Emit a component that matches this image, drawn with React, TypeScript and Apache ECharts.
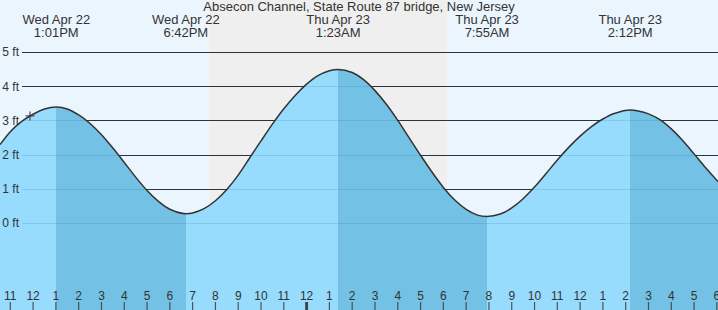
import React, { useEffect, useRef } from "react";
import * as echarts from "echarts";

const TITLE = "Absecon Channel, State Route 87 bridge, New Jersey";

// hours counted from Wed Apr 22 00:00, heights in ft
const TIDE_HOURS = [10.55, 11, 11.5, 12, 12.5, 13.017, 13.5, 14, 14.5, 15, 15.5, 16, 16.5, 17, 17.5, 18, 18.7, 19, 19.5, 20, 20.5, 21, 21.5, 22, 22.5, 23, 23.5, 24, 24.5, 25, 25.383, 26, 26.5, 27, 27.5, 28, 28.5, 29, 29.5, 30, 30.5, 31, 31.5, 31.917, 32.5, 33, 33.5, 34, 34.5, 35, 35.5, 36, 36.5, 37, 37.5, 38.2, 38.5, 39, 39.5, 40, 40.5, 41, 41.5, 42.05];
const TIDE_FT = [2.3, 2.68, 2.98, 3.19, 3.34, 3.4, 3.345, 3.17, 2.92, 2.59, 2.2, 1.78, 1.35, 0.96, 0.64, 0.41, 0.28, 0.3, 0.43, 0.66, 0.99, 1.41, 1.91, 2.41, 2.9, 3.35, 3.74, 4.07, 4.32, 4.46, 4.5, 4.41, 4.2, 3.88, 3.48, 3.01, 2.5, 1.99, 1.5, 1.05, 0.68, 0.41, 0.24, 0.2, 0.27, 0.45, 0.72, 1.06, 1.45, 1.85, 2.22, 2.55, 2.83, 3.05, 3.21, 3.31, 3.29, 3.2, 3.03, 2.76, 2.42, 2.03, 1.63, 1.22];

const EXTREME_HOURS = [13.017, 18.7, 25.383, 31.917, 38.2];
const EXTREME_DAYS = ["Wed Apr 22", "Wed Apr 22", "Thu Apr 23", "Thu Apr 23", "Thu Apr 23"];
const EXTREME_CLOCK = ["1:01PM", "6:42PM", "1:23AM", "7:55AM", "2:12PM"];

const HOUR_TICKS = [11, 12, 13, 14, 15, 16, 17, 18, 19, 20, 21, 22, 23, 24, 25, 26, 27, 28, 29, 30, 31, 32, 33, 34, 35, 36, 37, 38, 39, 40, 41, 42];
const HEIGHT_LEVELS = [0, 1, 2, 3, 4, 5];
const NIGHT = [19.72, 30.16];
const NOW_POINT = [11.864, 3.14];
const MIDNIGHT = [24];

const X_MIN = 10.548;
const X_MAX = 42.05;
const Y_MIN = -2.535;
const Y_MAX = 6.53;
const WIDTH = 718;
const HEIGHT = 310;

const FONT = "'Liberation Sans', Arial, sans-serif";
const TEXT = "#333";
const BG = "#EBF5FE";
const NIGHT_COLOR = "#EFEFEF";
const LIGHT = "#97DBFD";
const DARK = "#73C1E5";

function hourLabel(h: number) {
  const r = Math.round(h) % 12;
  return String(r === 0 ? 12 : r);
}

export default function App() {
  const ref = useRef<HTMLDivElement>(null);
  useEffect(() => {
    const chart = echarts.init(ref.current!, undefined, { renderer: "svg" });
    const lineStart = X_MIN + 22 * ((X_MAX - X_MIN) / WIDTH);

    const pieces: any[] = [];
    const bounds = [X_MIN - 1, ...EXTREME_HOURS, X_MAX + 1];
    for (let i = 0; i < bounds.length - 1; i++) {
      pieces.push({ gte: bounds[i], lt: bounds[i + 1], color: i % 2 === 0 ? LIGHT : DARK });
    }

    const option: any = {
      animation: false,
      backgroundColor: BG,
      textStyle: { fontFamily: FONT },
      title: {
        text: TITLE,
        left: "center",
        top: 0,
        padding: 0,
        textStyle: { fontSize: 13, fontWeight: "normal", color: TEXT, fontFamily: FONT },
      },
      grid: { left: 0, right: 0, top: 0, bottom: 0, containLabel: false, outerBoundsMode: "none" },
      xAxis: [
        {
          type: "value",
          position: "bottom",
          z: 10,
          min: X_MIN,
          max: X_MAX,
          splitLine: { show: false },
          axisLine: { show: false, onZero: false },
          axisTick: { show: false },
          axisLabel: {
            show: true,
            inside: true,
            margin: 8,
            customValues: HOUR_TICKS,
            formatter: (v: number) => hourLabel(v),
            color: TEXT,
            fontSize: 12,
            fontFamily: FONT,
          },
        },
        {
          type: "value",
          position: "top",
          z: 10,
          min: X_MIN,
          max: X_MAX,
          splitLine: { show: false },
          axisLine: { show: false, onZero: false },
          axisTick: { show: false },
          axisLabel: {
            show: true,
            inside: true,
            margin: 13,
            customValues: EXTREME_HOURS,
            formatter: (v: number) => {
              const i = EXTREME_HOURS.findIndex((e) => Math.abs(e - v) < 0.01);
              return i < 0 ? "" : EXTREME_DAYS[i] + "\n" + EXTREME_CLOCK[i];
            },
            color: TEXT,
            fontSize: 13,
            lineHeight: 13,
            fontFamily: FONT,
          },
        },
      ],
      yAxis: { type: "value", min: Y_MIN, max: Y_MAX, show: false },
      visualMap: {
        type: "piecewise",
        show: false,
        dimension: 0,
        seriesIndex: 0,
        pieces,
      },
      series: [
        {
          name: "tide",
          type: "line",
          z: 2,
          data: TIDE_HOURS.map((h, i) => [h, TIDE_FT[i]]),
          smooth: 0.3,
          showSymbol: false,
          symbol: "none",
          lineStyle: { color: "#333", width: 1.5 },
          areaStyle: { origin: "start", opacity: 1 },
          silent: true,
        },
        {
          name: "background",
          type: "line",
          z: 1,
          data: [],
          silent: true,
          markArea: {
            z: 0,
            silent: true,
            itemStyle: { color: NIGHT_COLOR },
            data: [[{ xAxis: NIGHT[0] }, { xAxis: NIGHT[1] }]],
          },
          markLine: {
            z: 1,
            silent: true,
            symbol: "none",
            label: { show: false },
            lineStyle: { color: "#333", width: 1, type: "solid" },
            data: HEIGHT_LEVELS.map((v) => [{ coord: [lineStart, v] }, { coord: [X_MAX, v] }]),
          },
        },
        {
          name: "overlay",
          type: "line",
          z: 5,
          data: [],
          silent: true,
          markLine: {
            z: 5,
            silent: true,
            symbol: "none",
            lineStyle: { color: "rgba(0,70,120,0.13)", width: 1, type: "solid" },
            label: {
              show: true,
              position: "start",
              distance: 3,
              formatter: "{b}",
              color: TEXT,
              fontSize: 12,
              fontFamily: FONT,
            },
            data: HEIGHT_LEVELS.map((v) => [{ name: v + " ft", coord: [lineStart, v] }, { coord: [X_MAX, v] }]),
          },
        },
        {
          name: "now",
          type: "scatter",
          z: 6,
          silent: true,
          data: [NOW_POINT],
          symbol: "path://M0,4L8,4M4,0L4,8",
          symbolSize: 9,
          itemStyle: { color: "none", borderColor: "#333", borderWidth: 1.3 },
        },
        {
          name: "hourTicks",
          type: "scatter",
          z: 11,
          silent: true,
          data: HOUR_TICKS.map((h) => [h, Y_MIN]),
          symbol: "rect",
          symbolSize: [1.2, 8],
          symbolOffset: [0, -4],
          itemStyle: { color: "#333" },
        },
        {
          name: "midnight",
          type: "scatter",
          z: 12,
          silent: true,
          data: MIDNIGHT.map((h) => [h, Y_MIN]),
          symbol: "rect",
          symbolSize: [3, 8],
          symbolOffset: [0, -4],
          itemStyle: { color: "#333" },
        },
      ],
    };
    chart.setOption(option);
    return () => chart.dispose();
  }, []);
  return (
    <div
      ref={ref}
      style={{ position: "fixed", left: 0, top: 0, width: WIDTH, height: HEIGHT }}
    />
  );
}
